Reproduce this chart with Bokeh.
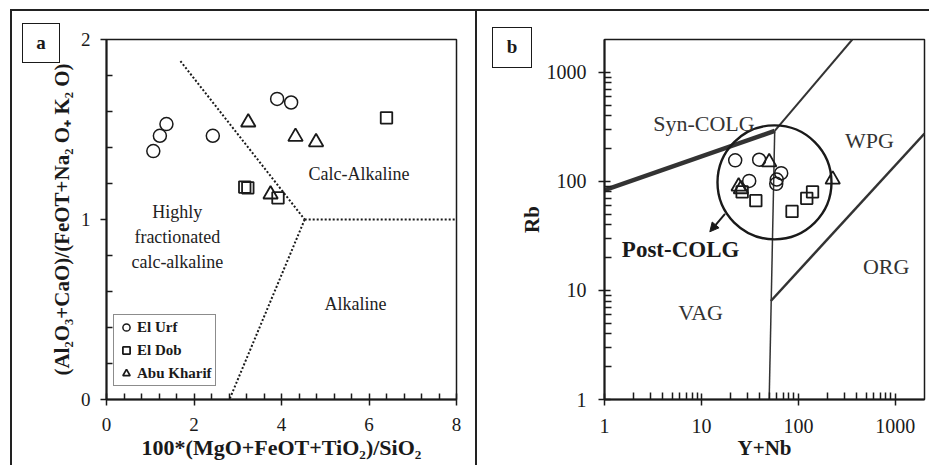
from bokeh.plotting import figure
from bokeh.layouts import row
from bokeh.models import FixedTicker, Arrow, NormalHead, PrintfTickFormatter, Div
from bokeh.core.properties import value
from bokeh.embed import file_html
from bokeh.resources import INLINE

SERIF = "Liberation Serif"
INK = "#1a1a1a"

# ---------------- Panel a data ----------------
a_urf_x = [1.07, 1.22, 1.37, 2.43, 3.90, 4.22]
a_urf_y = [1.38, 1.465, 1.53, 1.465, 1.67, 1.65]
a_dob_x = [3.16, 3.23, 3.92, 6.40]
a_dob_y = [1.18, 1.176, 1.12, 1.565]
a_kh_x = [3.24, 4.32, 4.79, 3.75]
a_kh_y = [1.54, 1.46, 1.43, 1.14]

a_line1_x = [1.69, 4.53]
a_line1_y = [1.88, 1.0]
a_line2_x = [4.53, 8.0]
a_line2_y = [1.0, 1.0]
a_line3_x = [4.53, 2.81]
a_line3_y = [1.0, 0.0]

a_region_text = ["Calc-Alkaline", "Highly\nfractionated\ncalc-alkaline", "Alkaline"]
a_region_x = [5.77, 1.62, 5.69]
a_region_y = [1.255, 0.905, 0.53]

a_xticks = [0, 2, 4, 6, 8]
a_xminor = [0.4, 0.8, 1.2, 1.6, 2.4, 2.8, 3.2, 3.6, 4.4, 4.8, 5.2, 5.6, 6.4, 6.8, 7.2, 7.6]
a_yticks = [0, 1, 2]
a_yminor = [0.2, 0.4, 0.6, 0.8, 1.2, 1.4, 1.6, 1.8]

# ---------------- Panel b data ----------------
b_urf_x = [22.3, 39.4, 31.1, 66.5, 59.8, 59.1]
b_urf_y = [156, 158, 101, 119, 104, 95]
b_dob_x = [26.3, 36.4, 86, 122, 140]
b_dob_y = [80, 66.5, 53, 70, 80]
b_kh_x = [50, 25.5, 24.2, 226]
b_kh_y = [150, 85, 90, 104]

b_synvag_x = [1, 57]
b_synvag_y = [83, 290]
b_synwpg_x = [57, 360]
b_synwpg_y = [290, 2000]
b_vagwpg_x = [50, 57]
b_vagwpg_y = [1, 290]
b_wpgorg_x = [52, 2000]
b_wpgorg_y = [8, 275]

b_circle_x = [56.7]
b_circle_y = [98]
b_arrow = dict(x0=17.5, y0=50.4, x1=12.2, y1=34.5)

b_region_text = ["Syn-COLG", "WPG", "ORG", "VAG"]
b_region_x = [10.6, 541, 805, 9.8]
b_region_y = [340, 239, 16.7, 6.3]
b_post_text = ["Post-COLG"]
b_post_x = [6.1]
b_post_y = [23.6]

b_ticks = [1, 10, 100, 1000]
b_minor = [2, 3, 4, 5, 6, 7, 8, 9, 20, 30, 40, 50, 60, 70, 80, 90,
           200, 300, 400, 500, 600, 700, 800, 900]

panel_tags = ["a", "b"]


def style_axis(ax, size):
    ax.axis_line_color = INK
    ax.axis_line_width = 2
    ax.major_tick_line_color = INK
    ax.major_tick_line_width = 1.5
    ax.minor_tick_line_color = INK
    ax.minor_tick_line_width = 1.5
    ax.major_label_text_font = SERIF
    ax.major_label_text_font_size = size
    ax.major_label_text_color = INK
    ax.axis_label_text_font = SERIF
    ax.axis_label_text_font_style = "bold"
    ax.axis_label_text_color = INK


def base(p):
    p.xgrid.visible = False
    p.ygrid.visible = False
    p.outline_line_color = INK
    p.outline_line_width = 1.5
    p.background_fill_color = "white"
    p.border_fill_color = "white"


def tag_div(text, left, top, w, h):
    # boxed panel tag, floated over the page corner of its panel
    return Div(text=text, margin=(0, 0, 0, 0), styles={
        "position": "absolute", "left": f"{left}px", "top": f"{top}px",
        "width": f"{w}px", "height": f"{h}px", "box-sizing": "border-box",
        "border": f"1.5px solid {INK}", "background": "white",
        "font-family": SERIF, "font-weight": "bold", "font-size": "19px",
        "color": INK, "text-align": "center", "line-height": f"{h - 3}px",
        "z-index": "10"})


# ---------------- Panel a ----------------
p1 = figure(width=465, height=456, x_range=(0, 8), y_range=(0, 2),
            output_backend="svg", toolbar_location=None,
            min_border_left=94, min_border_right=21, min_border_top=28, min_border_bottom=68)
base(p1)
for xs, ys in [(a_line1_x, a_line1_y), (a_line2_x, a_line2_y), (a_line3_x, a_line3_y)]:
    p1.line(xs, ys, line_color=INK, line_width=2, line_dash="2 2")

p1.scatter(a_urf_x, a_urf_y, marker="circle", size=13, fill_color=None,
           line_color=INK, line_width=1.5, legend_label="El Urf")
p1.scatter(a_dob_x, a_dob_y, marker="square", size=11.5, fill_color=None,
           line_color=INK, line_width=1.8, legend_label="El Dob")
p1.scatter(a_kh_x, a_kh_y, marker="triangle", size=14.5, fill_color=None,
           line_color=INK, line_width=1.8, legend_label="Abu Kharif")

p1.text(x=a_region_x, y=a_region_y, text=a_region_text, text_font=value(SERIF),
        text_font_size="18px", text_align="center", text_baseline="middle",
        text_color="#222222", text_line_height=1.25)

p1.xaxis.ticker = FixedTicker(ticks=a_xticks, minor_ticks=a_xminor)
p1.yaxis.ticker = FixedTicker(ticks=a_yticks, minor_ticks=a_yminor)
style_axis(p1.xaxis[0], "19px")
style_axis(p1.yaxis[0], "19px")
p1.xaxis.axis_label_text_font_size = "22px"
p1.yaxis.axis_label_text_font_size = "21px"
p1.xaxis.major_tick_out = 6
p1.xaxis.major_tick_in = 6
p1.xaxis.minor_tick_in = 6
p1.xaxis.minor_tick_out = 0
p1.yaxis.major_tick_out = 6
p1.yaxis.major_tick_in = 0
p1.yaxis.minor_tick_in = 6
p1.yaxis.minor_tick_out = 0
p1.xaxis.major_label_standoff = 12
p1.xaxis.axis_label_standoff = 1
p1.yaxis.major_label_standoff = 10
p1.yaxis.axis_label_standoff = 4
p1.xaxis.axis_label = "100*(MgO+FeOT+TiO\u2082)/SiO\u2082"
p1.yaxis.axis_label = "(Al\u2082O\u2083+CaO)/(FeOT+Na\u2082 O\u208a K\u2082 O)"

lg = p1.legend[0]
lg.location = (7, 13)
lg.border_line_color = INK
lg.border_line_width = 1.5
lg.background_fill_color = "white"
lg.background_fill_alpha = 1
lg.label_text_font = SERIF
lg.label_text_font_style = "bold"
lg.label_text_font_size = "15px"
lg.label_text_color = INK
lg.glyph_width = 18
lg.glyph_height = 18
lg.label_height = 18
lg.label_standoff = 2
lg.spacing = 5
lg.padding = 3
lg.margin = 0

# ---------------- Panel b ----------------
p2 = figure(width=454, height=456, x_axis_type="log", y_axis_type="log",
            x_range=(1, 2000), y_range=(1, 2000),
            output_backend="svg", toolbar_location=None,
            min_border_left=127, min_border_right=7, min_border_top=28, min_border_bottom=58)
base(p2)
p2.line(b_synvag_x, b_synvag_y, line_color="#333333", line_width=4.5)
p2.line(b_synwpg_x, b_synwpg_y, line_color="#333333", line_width=2)
p2.line(b_vagwpg_x, b_vagwpg_y, line_color="#333333", line_width=1.5)
p2.line(b_wpgorg_x, b_wpgorg_y, line_color="#333333", line_width=2.5)
p2.scatter(b_circle_x, b_circle_y, marker="circle", size=114, fill_color=None,
           line_color=INK, line_width=2.4)

p2.scatter(b_urf_x, b_urf_y, marker="circle", size=13, fill_color=None,
           line_color=INK, line_width=1.5)
p2.scatter(b_dob_x, b_dob_y, marker="square", size=11.5, fill_color=None,
           line_color=INK, line_width=1.8)
p2.scatter(b_kh_x, b_kh_y, marker="triangle", size=14.5, fill_color=None,
           line_color=INK, line_width=1.8)

p2.add_layout(Arrow(x_start=b_arrow["x0"], y_start=b_arrow["y0"],
                    x_end=b_arrow["x1"], y_end=b_arrow["y1"],
                    line_color=INK, line_width=2,
                    end=NormalHead(size=9, fill_color=INK, line_color=INK)))

p2.text(x=b_region_x, y=b_region_y, text=b_region_text, text_font=value(SERIF),
        text_font_size="22px", text_align="center", text_baseline="middle",
        text_color="#333333")
p2.text(x=b_post_x, y=b_post_y, text=b_post_text, text_font=value(SERIF),
        text_font_size="23px", text_font_style="bold", text_align="center",
        text_baseline="middle", text_color=INK)

for ax in (p2.xaxis[0], p2.yaxis[0]):
    ax.ticker = FixedTicker(ticks=b_ticks, minor_ticks=b_minor)
    ax.formatter = PrintfTickFormatter(format="%d")
    style_axis(ax, "20px")
    ax.axis_label_text_font_size = "21px"
    ax.major_tick_out = 6
    ax.major_tick_in = 6
    ax.minor_tick_in = 7
    ax.minor_tick_out = 0
p2.xaxis.major_label_standoff = 13
p2.xaxis.axis_label_standoff = 0
p2.yaxis.major_label_standoff = 12
p2.yaxis.axis_label_standoff = 0
p2.xaxis.axis_label = "Y+Nb"
p2.yaxis.axis_label = "Rb"

# table-like cell borders
p1.styles = {"border-top": "2px solid #222", "border-left": "2px solid #222"}
p2.styles = {"border-top": "2px solid #222", "border-left": "2px solid #222"}
p1.margin = (9, 0, 0, 10)
p2.margin = (9, 0, 0, 0)

tag_a = tag_div(panel_tags[0], 22, 23, 38, 40)
tag_b = tag_div(panel_tags[1], 492, 27, 40, 41)

layout = row(p1, p2, tag_a, tag_b)
open("out.html", "w").write(file_html(layout, INLINE))
